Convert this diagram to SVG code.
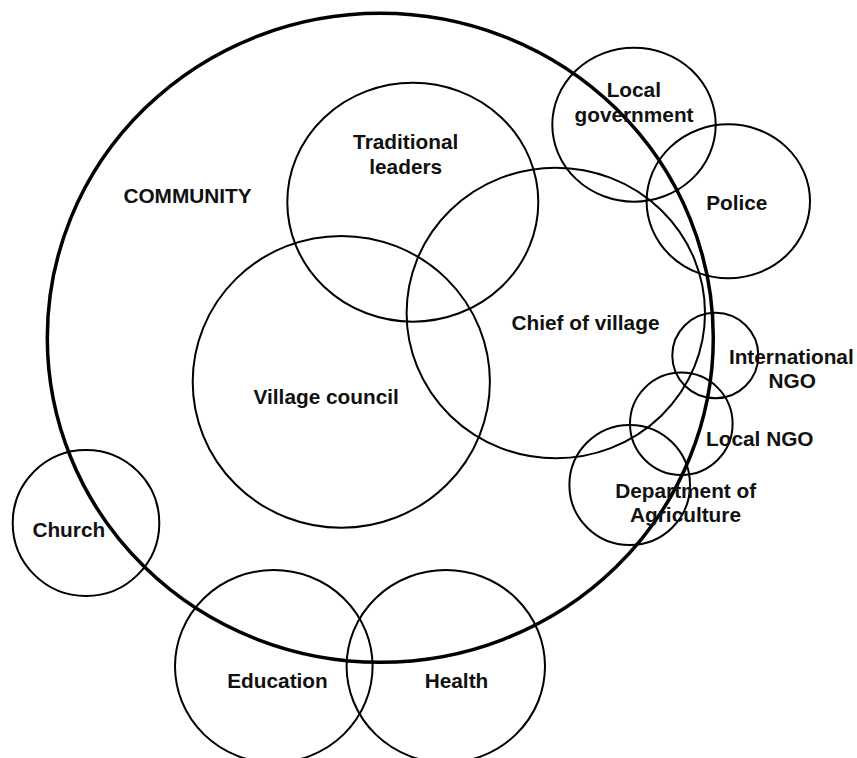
<svg xmlns="http://www.w3.org/2000/svg" width="857" height="758" viewBox="0 0 857 758">
<style>
.c{fill:none;stroke:#000;stroke-width:2}
.big{fill:none;stroke:#000;stroke-width:3.5}
text{font-family:"Liberation Sans",Arial,sans-serif;font-weight:bold;font-size:20.8px;fill:#111;text-anchor:middle}
</style>
<rect width="857" height="758" fill="#fff"/>
<g id="community"><ellipse class="big" cx="380.3" cy="337.8" rx="333" ry="324.5"/><text x="187.5" y="203.3">COMMUNITY</text></g>
<g id="traditional-leaders"><ellipse class="c" cx="412.8" cy="202.2" rx="125.5" ry="119.5"/><text x="405.7" y="149.3">Traditional</text><text x="405.7" y="173.9">leaders</text></g>
<g id="village-council"><ellipse class="c" cx="341.3" cy="381.8" rx="148.6" ry="145.9"/><text x="326.2" y="404">Village council</text></g>
<g id="chief-of-village"><ellipse class="c" cx="555.8" cy="313" rx="149.2" ry="145.3"/><text x="585.5" y="330">Chief of village</text></g>
<g id="local-government"><ellipse class="c" cx="634" cy="124.7" rx="81.7" ry="77"/><text x="633.8" y="97.3">Local</text><text x="634" y="121.7">government</text></g>
<g id="police"><ellipse class="c" cx="728.3" cy="201.3" rx="81.7" ry="77"/><text x="736.8" y="210">Police</text></g>
<g id="international-ngo"><ellipse class="c" cx="715.3" cy="355.5" rx="43" ry="42.8"/><text x="791.3" y="364">International</text><text x="792.2" y="387.7">NGO</text></g>
<g id="local-ngo"><ellipse class="c" cx="681.3" cy="423.8" rx="51.3" ry="51.2"/><text x="759.8" y="445.7">Local NGO</text></g>
<g id="department-of-agriculture"><ellipse class="c" cx="629.7" cy="485" rx="60.3" ry="60"/><text x="685.7" y="498.3">Department of</text><text x="685.5" y="522.3">Agriculture</text></g>
<g id="church"><ellipse class="c" cx="86" cy="523" rx="73.3" ry="73"/><text x="68.8" y="537.3">Church</text></g>
<g id="education"><ellipse class="c" cx="273.8" cy="666.3" rx="98.8" ry="96.3"/><text x="277.5" y="688.3">Education</text></g>
<g id="health"><ellipse class="c" cx="445.8" cy="666.3" rx="99.2" ry="96.3"/><text x="456.5" y="688.3">Health</text></g>
<g id="connectors"></g>
</svg>
